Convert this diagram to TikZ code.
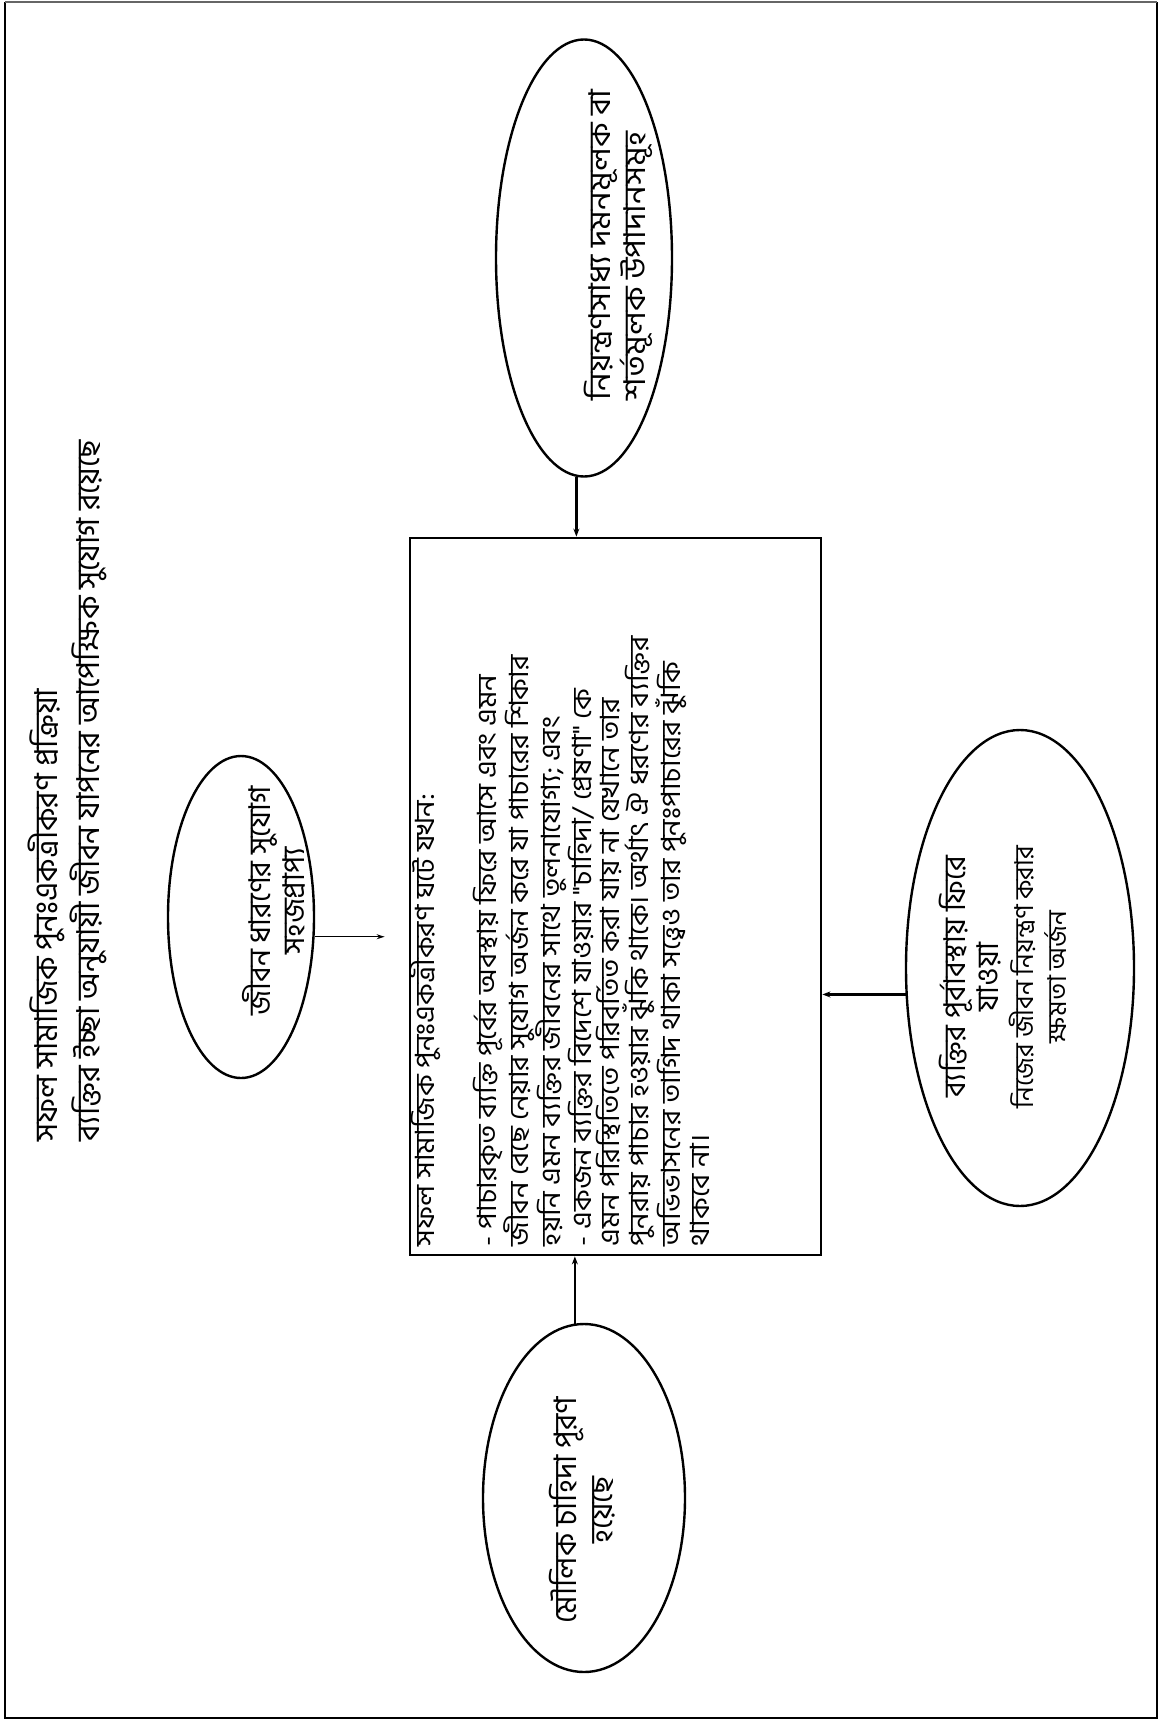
\documentclass[tikz,border=0pt]{standalone}
\usepackage{fontspec}
\setmainfont[Script=Bengali]{Hind Siliguri}
\newfontfamily\bnwide[Script=Bengali,FakeStretch=1.1]{Hind Siliguri}
\usetikzlibrary{shapes.geometric,arrows.meta}
\tikzset{
  ell/.style={draw, ellipse, line width=2.4pt, inner sep=0pt},
  mainbox/.style={draw, rectangle, line width=2.8pt, inner sep=0pt},
  arr/.style={line width=2.4pt, -{Stealth[length=8pt,width=6pt]}},
  arrthin/.style={line width=1.3pt, -{Stealth[length=8pt,width=5pt]}},
}
% rotated text block: #1 shift up (page), #2 raise (negative = page right), #3 content
\newcommand{\rtext}[3]{\rotatebox{90}{\hbox to 0pt{\hss\kern#1\raisebox{#2}[0pt][0pt]{#3}\kern-#1\hss}}}
\begin{document}
\begin{tikzpicture}[x=1pt,y=-1pt]
\useasboundingbox (0,0) rectangle (1161,1723);
\fill[white] (0,0) rectangle (1161,1723);
% outer frame
\draw[line width=2.8pt] (5,2) -- (5,1718) -- (1157,1718) -- (1157,2);
\draw[line width=1.2pt, black!60] (5,2) -- (1157,2);

% title
\node[anchor=south west, inner sep=0pt] (title) at (28,1142)
  {\rotatebox{90}{\fontsize{31.5}{40}\selectfont\begin{tabular}{@{}l@{}}
   সফল সামাজিক পুনঃএকত্রীকরণ প্রক্রিয়া\\
   ব্যক্তির ইচ্ছা অনুযায়ী জীবন যাপনের আপেক্ষিক সুযোগ রয়েছে
   \end{tabular}}};

% main box
\node[mainbox, minimum width=411pt, minimum height=717pt] (box) at (615.5,896.5)
  {\rotatebox{90}{\parbox[c][411pt][t]{717pt}{\vspace*{0pt}\hspace*{9pt}\begin{minipage}[t]{700pt}\raggedright
   \bnwide\fontsize{26.5}{28.5}\selectfont
   সফল সামাজিক পুনঃএকত্রীকরণ ঘটে যখন:\\[31pt]
   - পাচারকৃত ব্যক্তি পূর্বের অবস্থায় ফিরে আসে এবং এমন\\
   জীবন বেছে নেয়ার সুযোগ অর্জন করে যা পাচারের শিকার\\
   হয়নি এমন ব্যক্তির জীবনের সাথে তুলনাযোগ্য; এবং\\
   - একজন ব্যক্তির বিদেশে যাওয়ার ''চাহিদা/ প্রেষণা'' কে\\
   এমন পরিস্থিতিতে পরিবর্তিত করা যায় না যেখানে তার\\
   পুনরায় পাচার হওয়ার ঝুঁকি থাকে। অর্থাৎ ঐ ধরণের ব্যক্তির\\
   অভিভাসনের তাগিদ থাকা সত্ত্বেও তার পুনঃপাচারের ঝুঁকি\\
   থাকবে না।
   \end{minipage}}}};

% ellipses
\node[ell, minimum width=176pt, minimum height=437pt] (topell) at (584,258)
  {\rtext{13pt}{-42pt}{\bnwide\fontsize{30}{32}\selectfont\begin{tabular}{@{}l@{}}
   নিয়ন্ত্রণসাধ্য দমনমূলক বা\\ শর্তমূলক উপাদানসমূহ\end{tabular}}};

\node[ell, minimum width=146pt, minimum height=322pt] (ulell) at (241,917)
  {\rtext{16pt}{-44pt}{\fontsize{30}{34}\selectfont\begin{tabular}{@{}c@{}}
   জীবন ধারণের সুযোগ\\ সহজপ্রাপ্য\end{tabular}}};

\node[ell, minimum width=202pt, minimum height=348pt] (llell) at (584,1498)
  {\rtext{-12pt}{-8pt}{\fontsize{31}{36}\selectfont\begin{tabular}{@{}c@{}}
   মৌলিক চাহিদা পূরণ\\ হয়েছে\end{tabular}}};

\node[ell, minimum width=228pt, minimum height=476pt] (lrell) at (1020,968)
  {\rtext{-9pt}{6pt}{\fontsize{30}{33}\selectfont\begin{tabular}{@{}c@{}}
   ব্যক্তির পূর্বাবস্থায় ফিরে\\
   যাওয়া\\
   {\fontsize{26}{33}\selectfont নিজের জীবন নিয়ন্ত্রণ করার}\\
   {\fontsize{26}{33}\selectfont ক্ষমতা অর্জন}\end{tabular}}};

% connectors
\draw[arr] (topell.-92) -- (topell.-92 |- box.north);
\draw[arrthin, shorten >=24pt] (ulell.-15) -- (ulell.-15 -| box.west);
\draw[arr] (llell.93) -- (llell.93 |- box.south);
\draw[arr] (lrell.193) -- (lrell.193 -| box.east);
\end{tikzpicture}
\end{document}
